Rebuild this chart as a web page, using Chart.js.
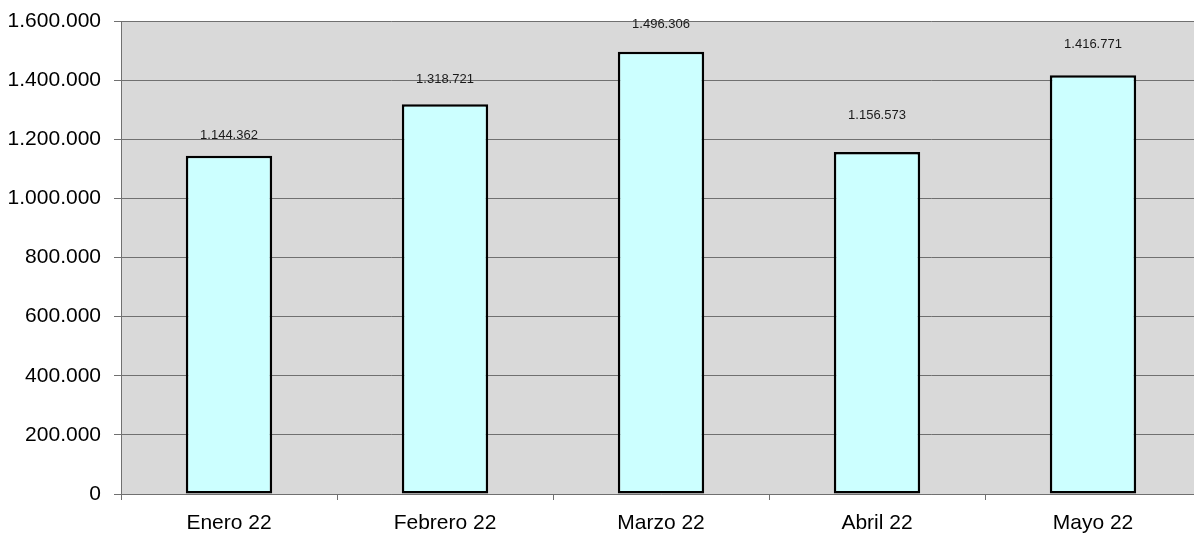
<!DOCTYPE html>
<html>
<head>
<meta charset="utf-8">
<script src="https://cdn.jsdelivr.net/npm/chart.js@4/dist/chart.umd.min.js"></script>
<style>
  html, body { margin: 0; padding: 0; background: #ffffff; overflow: hidden; }
  #wrap { width: 1201px; height: 533px; }
</style>
</head>
<body>
<div id="wrap"><canvas id="ventasChart" width="1201" height="533"></canvas></div>
<script>
// Chart data
const months = ['Enero 22', 'Febrero 22', 'Marzo 22', 'Abril 22', 'Mayo 22'];
const totals = [1144362, 1318721, 1496306, 1156573, 1416771];
const yTicks = [0, 200000, 400000, 600000, 800000, 1000000, 1200000, 1400000, 1600000];

const FONT = 'Arial, "Liberation Sans", sans-serif';

function formatMiles(v) {
    return Math.round(v).toString().replace(/\B(?=(\d{3})+(?!\d))/g, '.');
}

// grey plot area background
const plotBackground = {
    id: 'plotBackground',
    beforeDraw(chart) {
        const { ctx, chartArea } = chart;
        ctx.save();
        ctx.fillStyle = '#d9d9d9';
        ctx.fillRect(chartArea.left, chartArea.top, chartArea.right - chartArea.left, chartArea.bottom - chartArea.top);
        ctx.restore();
    }
};

// value labels above each bar (hand-placed in the original, so per-bar lift)
const valueLabels = {
    id: 'valueLabels',
    afterDatasetsDraw(chart, args, opts) {
        const { ctx } = chart;
        const meta = chart.getDatasetMeta(0);
        ctx.save();
        ctx.font = '13px ' + FONT;
        ctx.fillStyle = '#1a1a1a';
        ctx.textAlign = 'center';
        ctx.textBaseline = 'middle';
        meta.data.forEach((bar, i) => {
            const lift = opts.lift[i] || 24;
            ctx.fillText(formatMiles(totals[i]), bar.x, bar.y - lift);
        });
        ctx.restore();
    }
};

new Chart(document.getElementById('ventasChart').getContext('2d'), {
    type: 'bar',
    data: {
        labels: months,
        datasets: [{
            data: totals,
            backgroundColor: '#ccffff',
            borderColor: '#000000',
            borderWidth: 2.5,
            borderSkipped: false,
            barPercentage: 0.4,
            categoryPercentage: 1.0
        }]
    },
    options: {
        responsive: false,
        animation: false,
        layout: { padding: { top: 21, right: 0, bottom: 0, left: 0 } },
        plugins: {
            legend: { display: false },
            tooltip: { enabled: false },
            valueLabels: { lift: [20, 25, 27, 37, 31] }
        },
        scales: {
            x: {
                offset: true,
                border: { display: true, color: '#707070', width: 1 },
                grid: {
                    display: true,
                    offset: true,
                    drawOnChartArea: false,
                    drawTicks: true,
                    tickLength: 6,
                    color: '#707070'
                },
                ticks: {
                    color: '#000000',
                    padding: 11,
                    font: { family: FONT, size: 21 }
                },
                afterFit(scale) { scale.height = 39; }
            },
            y: {
                min: 0,
                max: 1600000,
                afterBuildTicks(scale) {
                    scale.ticks = yTicks.map(v => ({ value: v }));
                },
                border: { display: true, color: '#707070', width: 1 },
                grid: {
                    color: '#707070',
                    lineWidth: 1,
                    drawTicks: true,
                    tickLength: 7
                },
                ticks: {
                    color: '#000000',
                    padding: 13,
                    font: { family: FONT, size: 21, lineHeight: 1 },
                    callback: v => formatMiles(v)
                },
                afterFit(scale) {
                    scale.width = 121;
                    scale.paddingTop = 0;
                    scale.paddingBottom = 0;
                }
            }
        }
    },
    plugins: [plotBackground, valueLabels]
});
</script>
</body>
</html>
